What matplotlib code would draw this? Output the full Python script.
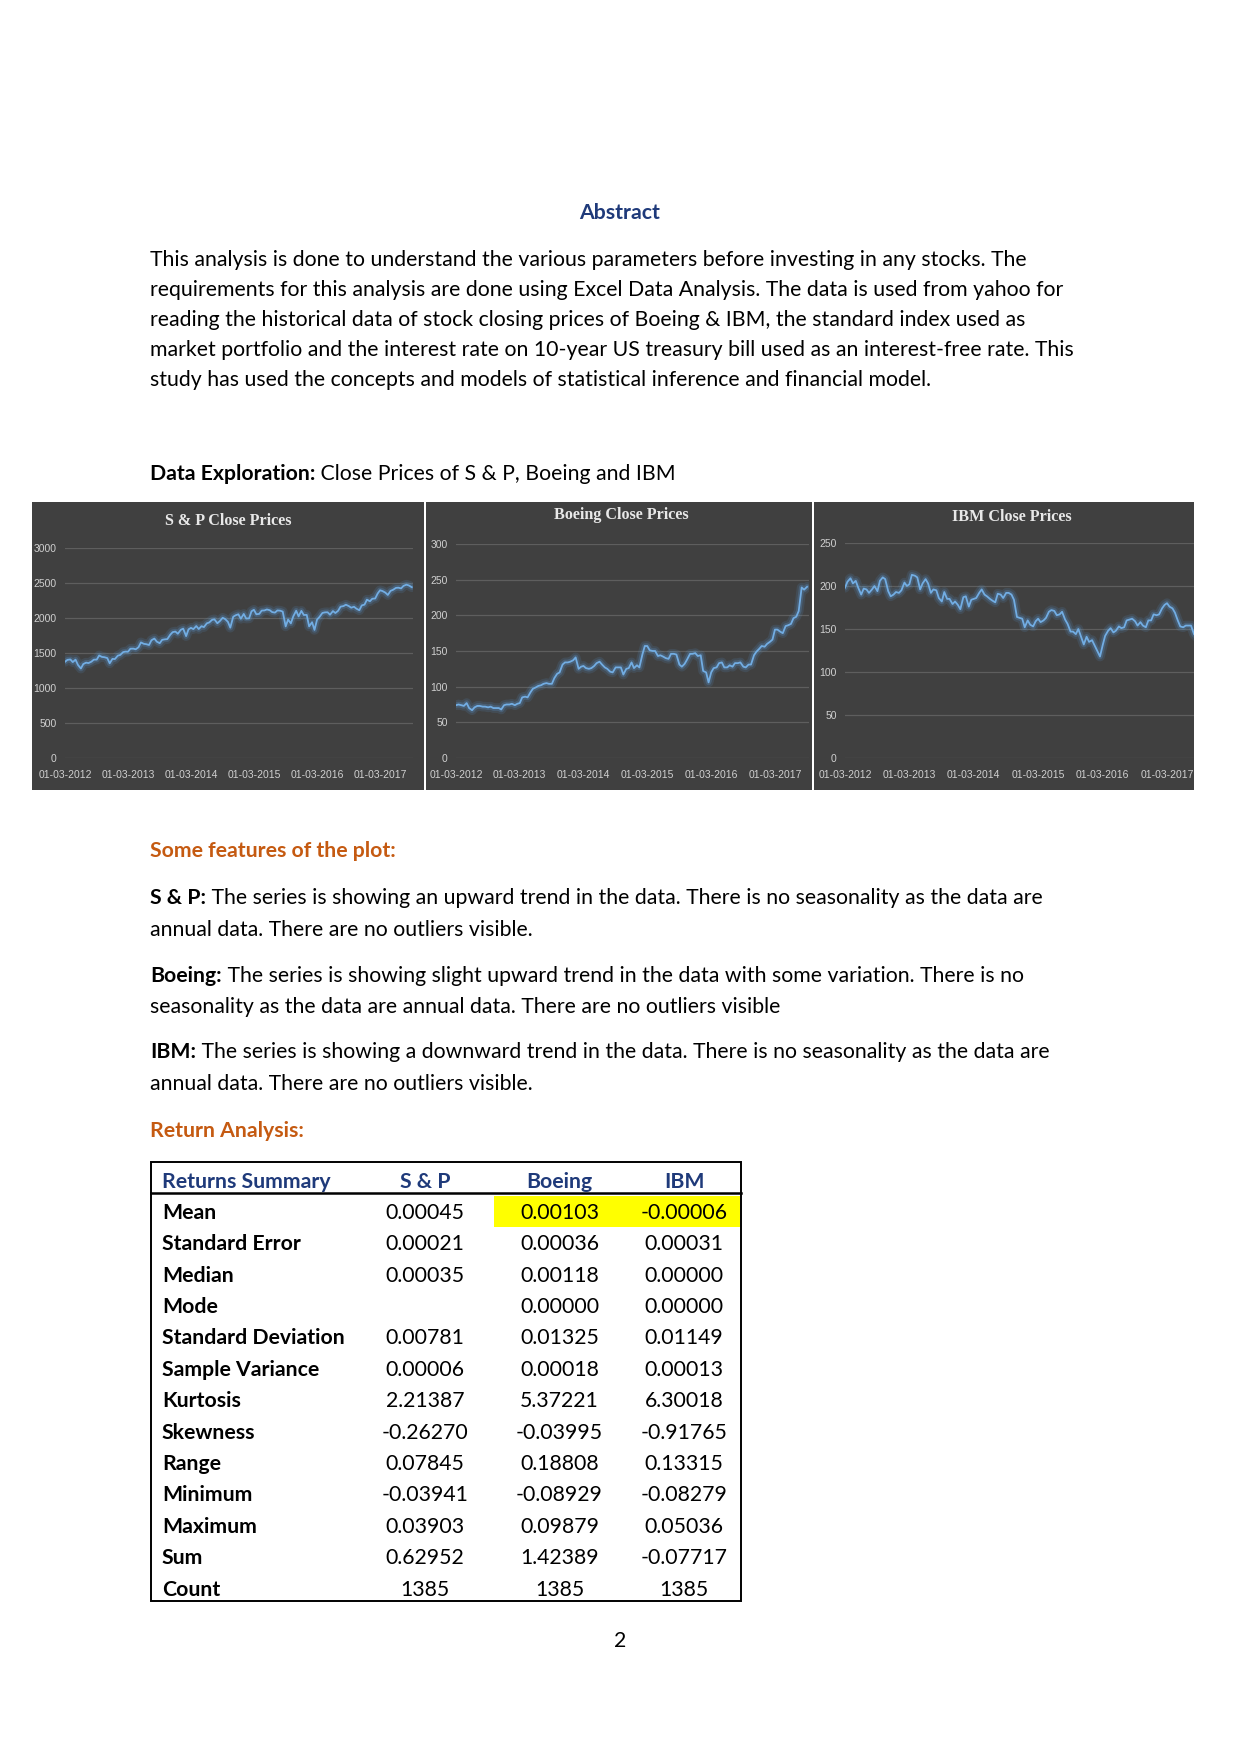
import pandas as pd
import matplotlib
matplotlib.use("Agg")
import matplotlib.pyplot as plt
import matplotlib.dates as mdates
from matplotlib.patches import Rectangle

plt.rcParams['font.family'] = ['Lato', 'DejaVu Sans']

W, H = 1241, 1754

# close prices, 1st and 15th of each month
dates = pd.date_range("2012-03-01", "2017-09-01", freq="SMS")

sp_close = [
    1374, 1402, 1408, 1370, 1405, 1330, 1278, 1342, 1362, 1356, 1376, 1405, 1406, 1465, 1444, 1440, 1428, 1353, 1416, 1413,
    1462, 1472, 1513, 1520, 1518, 1561, 1562, 1553, 1582, 1651, 1631, 1626, 1614, 1682, 1706, 1662, 1640, 1688, 1695, 1698, 1761, 1798, 1806, 1775,
    1831, 1848, 1741, 1838, 1859, 1841, 1885, 1842, 1883, 1870, 1924, 1936, 1973, 1981, 1925, 1955, 2003, 1985, 1946, 1862, 2018, 2039, 2053, 1989,
    2058, 1992, 1995, 2096, 2117, 2053, 2059, 2106, 2108, 2122, 2111, 2084, 2077, 2108, 2104, 2091, 1880, 1978, 1923, 2023, 2104, 2023, 2102, 2043,
    2044, 1880, 1940, 1830, 1978, 2015, 2072, 2080, 2082, 2047, 2099, 2071, 2103, 2162, 2170, 2190, 2170, 2147, 2161, 2133, 2111, 2180, 2191, 2262,
    2239, 2275, 2279, 2349, 2396, 2385, 2362, 2329, 2388, 2402, 2430, 2433, 2423, 2459, 2476, 2465, 2440,
]
boeing_close = [
    74, 75, 74, 73, 77, 70, 67, 71, 73, 73, 72, 72, 71, 72, 70, 70, 70, 68, 74, 75,
    75, 76, 74, 76, 77, 85, 86, 85, 92, 97, 99, 101, 102, 104, 105, 104, 104, 112, 118, 120, 131, 134, 134, 135,
    137, 141, 125, 128, 129, 126, 125, 126, 129, 133, 135, 131, 127, 125, 121, 120, 127, 127, 127, 117, 125, 126, 134, 126,
    130, 127, 145, 157, 157, 151, 150, 150, 143, 144, 142, 140, 139, 146, 146, 145, 131, 128, 132, 138, 146, 146, 147, 143,
    144, 122, 120, 106, 120, 126, 127, 133, 134, 127, 127, 130, 128, 133, 133, 134, 128, 127, 131, 131, 144, 149, 153, 157,
    156, 160, 163, 166, 180, 180, 177, 175, 185, 186, 188, 196, 198, 206, 239, 236, 240,
]
ibm_close = [
    198, 205, 209, 203, 206, 198, 190, 197, 196, 192, 196, 200, 194, 206, 210, 208, 194, 188, 190, 193,
    192, 195, 204, 200, 202, 213, 212, 210, 196, 203, 208, 203, 192, 196, 195, 186, 182, 193, 185, 185, 179, 182, 178, 173,
    187, 188, 176, 184, 185, 186, 192, 196, 190, 188, 185, 183, 181, 191, 190, 186, 192, 192, 190, 184, 164, 163, 162, 152,
    160, 155, 153, 159, 162, 158, 160, 163, 170, 172, 171, 166, 167, 170, 161, 156, 147, 147, 144, 150, 140, 132, 141, 135,
    137, 131, 124, 118, 131, 142, 148, 151, 146, 148, 153, 151, 152, 160, 161, 162, 159, 154, 158, 154, 152, 160, 160, 167,
    166, 167, 174, 178, 180, 176, 174, 169, 160, 153, 152, 154, 154, 154, 144, 141, 143,
]

chart_titles = ["S & P Close Prices", "Boeing Close Prices", "IBM Close Prices"]
tick_years = [2012, 2013, 2014, 2015, 2016, 2017]

stat_names = ["Mean", "Standard Error", "Median", "Mode", "Standard Deviation", "Sample Variance",
              "Kurtosis", "Skewness", "Range", "Minimum", "Maximum", "Sum", "Count"]
sp_stats = ["0.00045", "0.00021", "0.00035", "", "0.00781", "0.00006", "2.21387", "-0.26270",
            "0.07845", "-0.03941", "0.03903", "0.62952", "1385"]
boeing_stats = ["0.00103", "0.00036", "0.00118", "0.00000", "0.01325", "0.00018", "5.37221", "-0.03995",
                "0.18808", "-0.08929", "0.09879", "1.42389", "1385"]
ibm_stats = ["-0.00006", "0.00031", "0.00000", "0.00000", "0.01149", "0.00013", "6.30018", "-0.91765",
             "0.13315", "-0.08279", "0.05036", "-0.07717", "1385"]

abstract_lines = [
    "This analysis is done to understand the various parameters before investing in any stocks. The",
    "requirements for this analysis are done using Excel Data Analysis. The data is used from yahoo for",
    "reading the historical data of stock closing prices of Boeing & IBM, the standard index used as",
    "market portfolio and the interest rate on 10-year US treasury bill used as an interest-free rate. This",
    "study has used the concepts and models of statistical inference and financial model.",
]

NAVY = "#1F3A7A"
ORANGE = "#C55A11"
FS = 15.3


def px_rect(x0, y0, x1, y1):
    return [x0 / W, 1 - y1 / H, (x1 - x0) / W, (y1 - y0) / H]


fig = plt.figure(figsize=(W / 100, H / 100), dpi=100)
page = fig.add_axes([0, 0, 1, 1])
page.set_xlim(0, W)
page.set_ylim(H, 0)
page.axis("off")


def bold_then_plain(y, bold, plain, color="black"):
    t = page.text(150, y, bold, fontsize=FS, fontweight="bold", color=color, va="center_baseline")
    page.annotate(plain, xy=(1, 0), xycoords=t, fontsize=FS, va="bottom", ha="left")


page.text(620, 211, "Abstract", fontsize=FS, fontweight="bold", color=NAVY, ha="center", va="center_baseline")
for i, line in enumerate(abstract_lines):
    page.text(150, 258.5 + i * 29.9, line, fontsize=FS, va="center_baseline")

bold_then_plain(472, "Data Exploration:", " Close Prices of S & P, Boeing and IBM")

page.text(150, 849, "Some features of the plot:", fontsize=FS, fontweight="bold", color=ORANGE, va="center_baseline")
bold_then_plain(896, "S & P:", " The series is showing an upward trend in the data. There is no seasonality as the data are")
page.text(150, 927.5, "annual data. There are no outliers visible.", fontsize=FS, va="center_baseline")
bold_then_plain(973.5, "Boeing:", " The series is showing slight upward trend in the data with some variation. There is no")
page.text(150, 1005, "seasonality as the data are annual data. There are no outliers visible", fontsize=FS, va="center_baseline")
bold_then_plain(1050.5, "IBM:", " The series is showing a downward trend in the data. There is no seasonality as the data are")
page.text(150, 1082, "annual data. There are no outliers visible.", fontsize=FS, va="center_baseline")
page.text(150, 1129, "Return Analysis:", fontsize=FS, fontweight="bold", color=ORANGE, va="center_baseline")

# returns summary table
page.add_patch(Rectangle((493.5, 1196), 246.5, 30.5, color="#FFFF00", lw=0))
page.add_patch(Rectangle((150.5, 1162), 590.5, 439, fill=False, ec="black", lw=1.4))
page.plot([150.5, 741], [1193, 1193], color="black", lw=1.8)
col_x = [425, 559.5, 684]
page.text(162, 1179.5, "Returns Summary", fontsize=FS, fontweight="bold", color=NAVY, va="center_baseline")
for x, name in zip(col_x, ["S & P", "Boeing", "IBM"]):
    page.text(x, 1179.5, name, fontsize=FS, fontweight="bold", color=NAVY, ha="center", va="center_baseline")
for i, name in enumerate(stat_names):
    y = 1210.8 + i * 31.4
    page.text(162, y, name, fontsize=FS, fontweight="bold", va="center_baseline")
    for x, col in zip(col_x, [sp_stats, boeing_stats, ibm_stats]):
        page.text(x, y, col[i], fontsize=FS, ha="center", va="center_baseline")

page.text(620, 1639, "2", fontsize=FS, ha="center", va="center_baseline")

# the three close price charts
panels = [(32, 502, 424, 790), (426, 502, 812, 790), (814, 502, 1194, 790)]
plots = [(65, 548, 413, 758), (456, 544, 809, 758), (845, 543, 1194, 758)]
title_pos = [(228, 521), (621, 515), (1012, 517)]
series = [sp_close, boeing_close, ibm_close]
y_max = [3000, 300, 250]
y_step = [500, 50, 50]
x_end = ["2017-09-08", "2017-09-12", "2017-08-01"]

for k in range(3):
    bg = fig.add_axes(px_rect(*panels[k]))
    bg.set_facecolor("#404040")
    bg.set_xticks([])
    bg.set_yticks([])
    for s in bg.spines.values():
        s.set_visible(False)
    fig.text(title_pos[k][0] / W, 1 - title_pos[k][1] / H, chart_titles[k], fontsize=11.6,
             fontweight="bold", family="Liberation Serif", color="#E8E8E8", ha="center", va="center")

    ax = fig.add_axes(px_rect(*plots[k]))
    ax.patch.set_alpha(0)
    vals = series[k]
    ax.plot(dates, vals, color="#5B9BD5", lw=7, alpha=0.14, solid_capstyle="round")
    ax.plot(dates, vals, color="#5B9BD5", lw=4, alpha=0.25, solid_capstyle="round")
    ax.plot(dates, vals, color="#72ADE3", lw=1.3)
    ax.set_ylim(0, y_max[k])
    ax.set_yticks(range(0, y_max[k] + 1, y_step[k]))
    ax.set_xlim(pd.Timestamp("2012-03-01"), pd.Timestamp(x_end[k]))
    ax.set_xticks([pd.Timestamp(f"{yr}-03-01") for yr in tick_years])
    ax.xaxis.set_major_formatter(mdates.DateFormatter("%d-%m-%Y"))
    ax.grid(axis="y", color="#5E5E5E", lw=0.9)
    ax.set_axisbelow(True)
    ax.tick_params(length=0, colors="#D0D0D0", labelsize=7.5)
    ax.tick_params(axis="x", pad=9)
    ax.tick_params(axis="y", pad=6)
    for lab in ax.get_xticklabels() + ax.get_yticklabels():
        lab.set_family(["Liberation Sans Narrow", "Liberation Sans"])
    for s in ax.spines.values():
        s.set_visible(False)

fig.savefig("out.png", dpi=100, facecolor="white")
